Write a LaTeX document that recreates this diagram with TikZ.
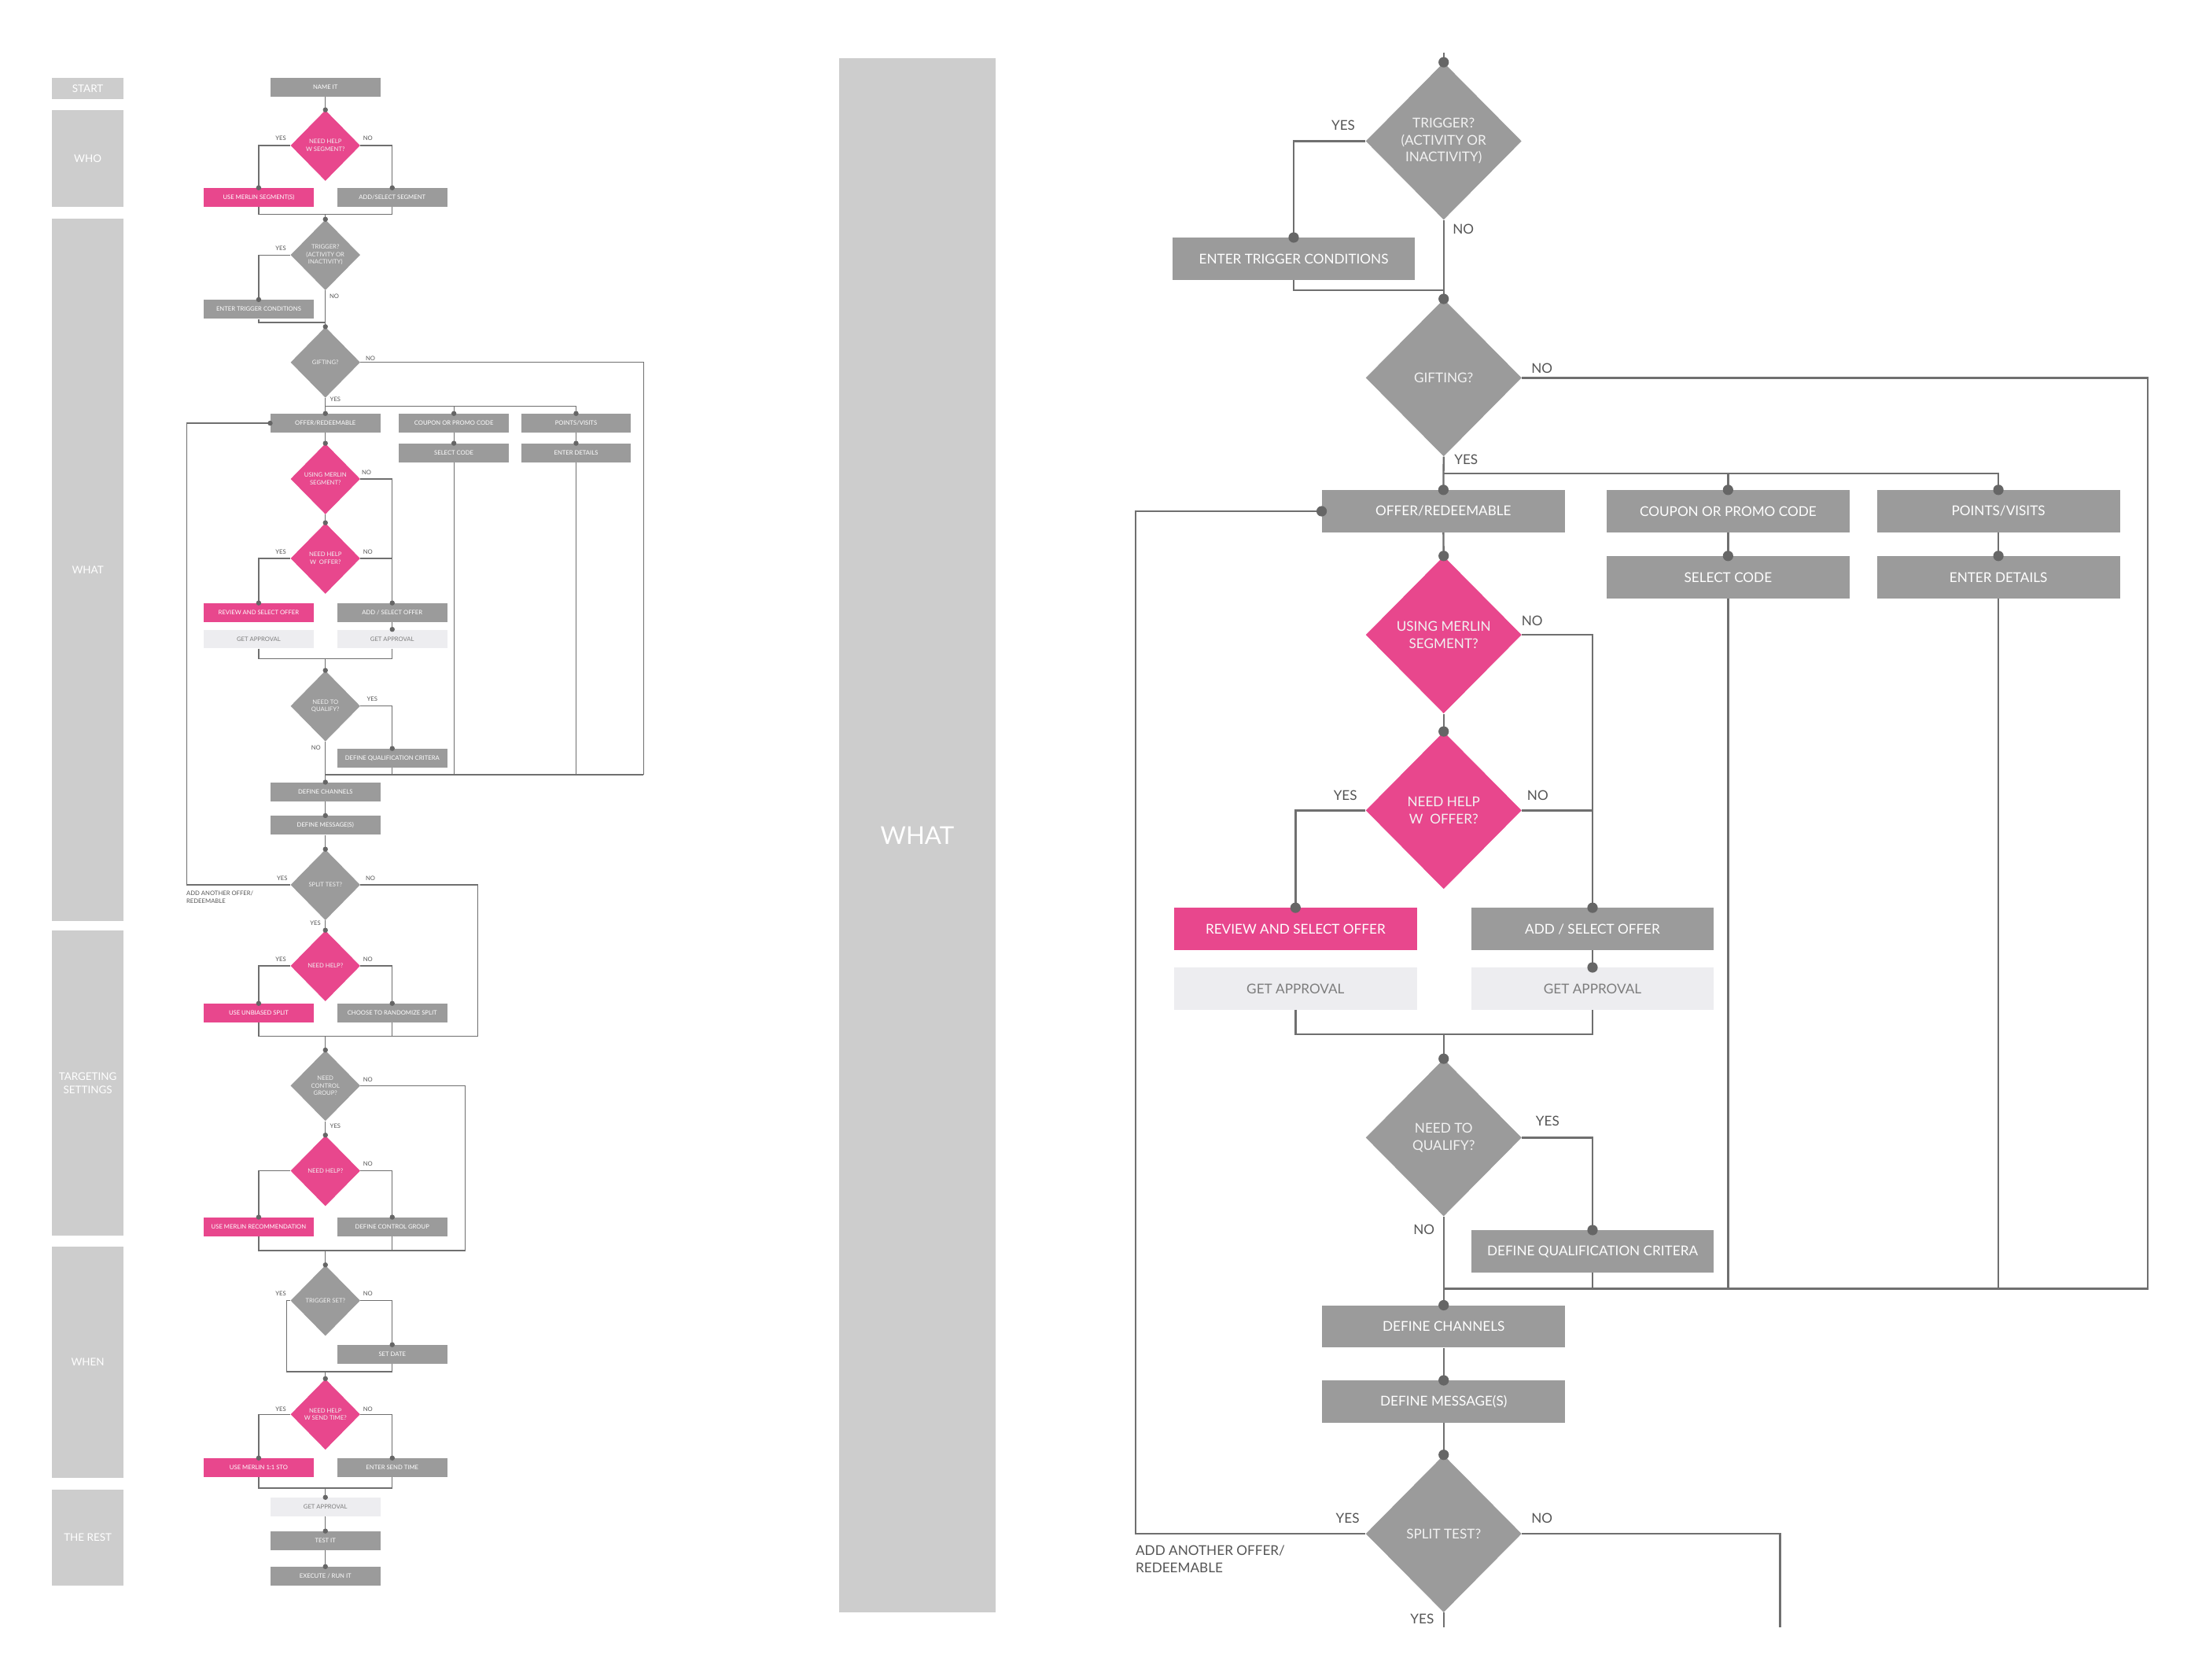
\documentclass[tikz,border=0pt]{standalone}
\usepackage{fontspec}
\setmainfont{Lato}
\usetikzlibrary{shapes.geometric}
\definecolor{boxg}{HTML}{9B9B9B}
\definecolor{pinkc}{HTML}{E8478D}
\definecolor{lightb}{HTML}{EDEDF0}
\definecolor{colbg}{HTML}{CDCDCD}
\definecolor{linec}{HTML}{6F6F6F}
\definecolor{dotc}{HTML}{666666}
\definecolor{labc}{HTML}{555555}
\definecolor{lighttxt}{HTML}{7D7D7D}
\definecolor{dtxt}{HTML}{F2F2F2}
\newcommand\fsR{\fontsize{9.6}{12}\selectfont}
\newcommand\fsL{\fontsize{4.3}{5.4}\selectfont}
\newcommand\fsC{\fontsize{7.5}{9.8}\selectfont}
\newcommand\fsW{\fontsize{17.5}{20}\selectfont}
\newcommand\diaL[4]{\node[ldia,fill=#2] (#1) at (#3) {}; \node[ldt] (#1t) at (#1) {#4};}
\newcommand\diaR[4]{\node[rdia,fill=#2] (#1) at (#3) {}; \node[rdt] (#1t) at (#1) {#4};}
\newcommand\mydotL[1]{\fill[dotc] (#1) circle (1.8pt);}
\newcommand\mydotR[1]{\fill[dotc] (#1) circle (3.7pt);}
\begin{document}
\begin{tikzpicture}[x=1pt,y=-1pt,
  rbox/.style={rectangle,inner sep=0,minimum width=173pt,minimum height=30pt,font=\fsR,text=white},
  lbox/.style={rectangle,inner sep=0,minimum width=78.3pt,minimum height=13.4pt,font=\fsL,text=white},
  gry/.style={fill=boxg}, pnk/.style={fill=pinkc}, lgt/.style={fill=lightb,text=lighttxt},
  rdia/.style={diamond,inner sep=0,minimum width=111pt,minimum height=112pt},
  ldia/.style={diamond,inner sep=0,minimum width=49.6pt,minimum height=50.4pt},
  rdt/.style={font=\fsR,align=center,text=dtxt,inner sep=0},
  ldt/.style={font=\fsL,align=center,text=dtxt,inner sep=0},
  rlab/.style={font=\fsR,text=labc,inner sep=0},
  llab/.style={font=\fsL,text=labc,inner sep=0},
  rln/.style={draw=linec,line width=1.3pt},
  lln/.style={draw=linec,line width=0.65pt},
  colbox/.style={fill=colbg,inner sep=0,text=white,align=center},
]
\useasboundingbox (0,0) rectangle (1568,1196);
\fill[white] (0,0) rectangle (1568,1196);

% ---------- column labels ----------
\node[colbox,minimum width=51pt,minimum height=15.2pt,font=\fsC] (cstart) at (62.5,63) {START};
\node[colbox,minimum width=51pt,minimum height=69pt,font=\fsC] (cwho) at (62.5,112.9) {WHO};
\node[colbox,minimum width=51pt,minimum height=500.3pt,font=\fsC] (cwhat) at (62.5,405.6) {WHAT};
\node[colbox,minimum width=51pt,minimum height=217.4pt,font=\fsC] (ctarget) at (62.5,771.3) {TARGETING\\SETTINGS};
\node[colbox,minimum width=51pt,minimum height=164.7pt,font=\fsC] (cwhen) at (62.5,970) {WHEN};
\node[colbox,minimum width=51pt,minimum height=68.1pt,font=\fsC] (crest) at (62.5,1094.7) {THE REST};
\node[colbox,minimum width=111.5pt,minimum height=1106.5pt,font=\fsW] (cbigwhat) at (653.2,594.7) {WHAT};

% ---------- left (small) flowchart ----------
\node[lbox,gry] (lname) at (231.7,62.2) {NAME IT};
\diaL{ld1}{pinkc}{231.7,103.6}{NEED HELP\\W SEGMENT?}
\node[lbox,pnk] (lb1a) at (184.2,140.6) {USE MERLIN SEGMENT(S)};
\node[lbox,gry] (lb1b) at (279.3,140.6) {ADD/SELECT SEGMENT};
\diaL{ld2}{boxg}{231.7,181.5}{TRIGGER?\\(ACTIVITY OR\\INACTIVITY)}
\node[lbox,gry] (lb2) at (184.2,220.2) {ENTER TRIGGER CONDITIONS};
\diaL{ld3}{boxg}{231.7,258}{GIFTING?}
\node[lbox,gry] (lb3a) at (231.7,301.3) {OFFER/REDEEMABLE};
\node[lbox,gry] (lb3b) at (323.2,301.3) {COUPON OR PROMO CODE};
\node[lbox,gry] (lb3c) at (410.2,301.3) {POINTS/VISITS};
\node[lbox,gry] (lb3d) at (323.2,322.5) {SELECT CODE};
\node[lbox,gry] (lb3e) at (410.2,322.5) {ENTER DETAILS};
\diaL{ld4}{pinkc}{231.7,341}{USING MERLIN\\SEGMENT?}
\diaL{ld5}{pinkc}{231.7,397.6}{NEED HELP\\W\ \ OFFER?}
\node[lbox,pnk] (lb5a) at (184.2,436.2) {REVIEW AND SELECT OFFER};
\node[lbox,gry] (lb5b) at (279.3,436.2) {ADD / SELECT OFFER};
\node[lbox,lgt] (lb5c) at (184.2,455) {GET APPROVAL};
\node[lbox,lgt] (lb5d) at (279.3,455) {GET APPROVAL};
\diaL{ld6}{boxg}{231.7,502.7}{NEED TO\\QUALIFY?}
\node[lbox,gry] (lb6) at (279.3,539.8) {DEFINE QUALIFICATION CRITERA};
\node[lbox,gry] (lb7) at (231.7,563.8) {DEFINE CHANNELS};
\node[lbox,gry] (lb8) at (231.7,587.6) {DEFINE MESSAGE(S)};
\diaL{ld9}{boxg}{231.7,630}{SPLIT TEST?}
\diaL{ld10}{pinkc}{231.7,687.7}{NEED HELP?}
\node[lbox,pnk] (lb10a) at (184.2,721.3) {USE UNBIASED SPLIT};
\node[lbox,gry] (lb10b) at (279.3,721.3) {CHOOSE TO RANDOMIZE SPLIT};
\diaL{ld11}{boxg}{231.7,773}{NEED\\CONTROL\\GROUP?}
\diaL{ld12}{pinkc}{231.7,833.6}{NEED HELP?}
\node[lbox,pnk] (lb12a) at (184.2,873.5) {USE MERLIN RECOMMENDATION};
\node[lbox,gry] (lb12b) at (279.3,873.5) {DEFINE CONTROL GROUP};
\diaL{ld13}{boxg}{231.7,926}{TRIGGER SET?}
\node[lbox,gry] (lb13) at (279.3,964.3) {SET DATE};
\diaL{ld14}{pinkc}{231.7,1007}{NEED HELP\\W SEND TIME?}
\node[lbox,pnk] (lb14a) at (184.2,1045) {USE MERLIN 1:1 STO};
\node[lbox,gry] (lb14b) at (279.3,1045) {ENTER SEND TIME};
\node[lbox,lgt] (lb15) at (231.7,1073) {GET APPROVAL};
\node[lbox,gry] (lb16) at (231.7,1097) {TEST IT};
\node[lbox,gry] (lb17) at (231.7,1122.3) {EXECUTE / RUN IT};

% left labels
\node[llab] (ll1y) at (200,98.6) {YES};
\node[llab] (ll1n) at (262,98.6) {NO};
\node[llab] (ll2y) at (200,177) {YES};
\node[llab] (ll2n) at (238,210.7) {NO};
\node[llab] (ll3n) at (263.8,255.4) {NO};
\node[llab] (ll3y) at (238.8,284.6) {YES};
\node[llab] (ll4n) at (261,336.6) {NO};
\node[llab] (ll5y) at (200,393) {YES};
\node[llab] (ll5n) at (262,393) {NO};
\node[llab] (ll6y) at (265,497.7) {YES};
\node[llab] (ll6n) at (225,532.4) {NO};
\node[llab] (ll9y) at (200.9,625.3) {YES};
\node[llab] (ll9n) at (263.8,625.3) {NO};
\node[llab,anchor=west,align=left] (ll9a) at (132.6,638.7) {ADD ANOTHER OFFER/\\REDEEMABLE};
\node[llab] (ll9b) at (224.6,657.5) {YES};
\node[llab] (ll10y) at (200,683.2) {YES};
\node[llab] (ll10n) at (262,683.2) {NO};
\node[llab] (ll11n) at (262,768.7) {NO};
\node[llab] (ll11y) at (238.8,802) {YES};
\node[llab] (ll12n) at (262,828.8) {NO};
\node[llab] (ll13y) at (200,921) {YES};
\node[llab] (ll13n) at (262,921) {NO};
\node[llab] (ll14y) at (200,1003.4) {YES};
\node[llab] (ll14n) at (262,1003.4) {NO};

% left connectors
\draw[lln] (lname.south) -- (ld1.north);
\draw[lln] (ld1.west) -| (lb1a.north);
\draw[lln] (ld1.east) -| (lb1b.north);
\coordinate (lm1) at (231.7,152.5);
\draw[lln] (lb1a.south) |- (lm1) -| (lb1b.south);
\draw[lln] (lm1) -- (ld2.north);
\draw[lln] (ld2.west) -| (lb2.north);
\coordinate (lm2) at (231.7,229.6);
\draw[lln] (lb2.south) |- (lm2);
\draw[lln] (ld2.south) -- (ld3.north);
\coordinate (lgE) at (458.3,551.6);
\draw[lln] (ld3.east) -| (lgE);
\coordinate (lm3) at (231.7,289.4);
\draw[lln] (ld3.south) -- (lb3a.north);
\draw[lln] (lm3) -| (lb3b.north);
\draw[lln] (lm3) -| (lb3c.north);
\draw[lln] (lb3b.south) -- (lb3d.north);
\draw[lln] (lb3c.south) -- (lb3e.north);
\coordinate (lm6) at (231.7,551.6);
\draw[lln] (lb3d.south) -- (lb3d.south |- lm6);
\draw[lln] (lb3e.south) -- (lb3e.south |- lm6);
\draw[lln] (lb3a.south) -- (ld4.north);
\draw[lln] (ld4.south) -- (ld5.north);
\draw[lln] (ld4.east) -| (lb5b.north);
\draw[lln] (ld5.west) -| (lb5a.north);
\draw[lln] (ld5.east) -- (ld5.east -| lb5b.north);
\draw[lln] (lb5b.south) -- (lb5d.north);
\coordinate (lm5) at (231.7,469);
\draw[lln] (lb5c.south) |- (lm5) -| (lb5d.south);
\draw[lln] (lm5) -- (ld6.north);
\draw[lln] (ld6.east) -| (lb6.north);
\draw[lln] (ld6.south) -- (lb7.north);
\draw[lln] (lm6) -- (lgE);
\draw[lln] (lb6.south) -- (lb6.south |- lm6);
\draw[lln] (lb7.south) -- (lb8.north);
\draw[lln] (lb8.south) -- (ld9.north);
\coordinate (lL) at (132.8,630);
\draw[lln] (ld9.west) -- (ld9.west -| lL) |- (lb3a.west);
\coordinate (lR) at (340.3,738);
\coordinate (lm10) at (231.7,738);
\draw[lln] (ld9.east) -| (lR) -- (lm10);
\draw[lln] (ld9.south) -- (ld10.north);
\draw[lln] (ld10.west) -| (lb10a.north);
\draw[lln] (ld10.east) -| (lb10b.north);
\draw[lln] (lb10a.south) |- (lm10);
\draw[lln] (lb10b.south) |- (lm10);
\draw[lln] (lm10) -- (ld11.north);
\coordinate (lR2) at (331.1,890.4);
\coordinate (lm12) at (231.7,890.4);
\draw[lln] (ld11.east) -| (lR2) -- (lm12);
\draw[lln] (ld11.south) -- (ld12.north);
\draw[lln] (ld12.west) -| (lb12a.north);
\draw[lln] (ld12.east) -| (lb12b.north);
\draw[lln] (lb12a.south) |- (lm12);
\draw[lln] (lb12b.south) |- (lm12);
\draw[lln] (lm12) -- (ld13.north);
\coordinate (lm13L) at (204,976.6);
\coordinate (lm13) at (231.7,976.6);
\draw[lln] (ld13.west) -| (lm13L) -- (lm13);
\draw[lln] (ld13.east) -| (lb13.north);
\draw[lln] (lb13.south) |- (lm13);
\draw[lln] (lm13) -- (ld14.north);
\draw[lln] (ld14.west) -| (lb14a.north);
\draw[lln] (ld14.east) -| (lb14b.north);
\coordinate (lm14) at (231.7,1059.5);
\draw[lln] (lb14a.south) |- (lm14) -| (lb14b.south);
\draw[lln] (lm14) -- (lb15.north);
\draw[lln] (lb15.south) -- (lb16.north);
\draw[lln] (lb16.south) -- (lb17.north);

% left dots
\foreach \p in {ld1.north,lb1a.north,lb1b.north,ld2.north,lb2.north,ld3.north,
  lb3a.north,lb3b.north,lb3c.north,lb3d.north,lb3e.north,lb3a.west,ld4.north,ld5.north,
  lb5a.north,lb5b.north,lb5d.north,ld6.north,lb6.north,lb7.north,lb8.north,ld9.north,
  ld10.north,lb10a.north,lb10b.north,ld11.north,ld12.north,lb12a.north,lb12b.north,
  ld13.north,lb13.north,ld14.north,lb14a.north,lb14b.north,lb15.north,lb16.north,lb17.north}
  {\mydotL{\p}}

% ---------- right (large) flowchart ----------
\coordinate (rtop) at (1028,37.5);
\diaR{rd1}{boxg}{1028,100.5}{TRIGGER?\\(ACTIVITY OR\\INACTIVITY)}
\node[rbox,gry] (rb1) at (921.2,184.3) {ENTER TRIGGER CONDITIONS};
\diaR{rd2}{boxg}{1028,269}{GIFTING?}
\node[rbox,gry] (rb3a) at (1027.8,364) {OFFER/REDEEMABLE};
\node[rbox,gry] (rb3b) at (1230.5,364) {COUPON OR PROMO CODE};
\node[rbox,gry] (rb3c) at (1423,364) {POINTS/VISITS};
\node[rbox,gry] (rb3d) at (1230.5,411) {SELECT CODE};
\node[rbox,gry] (rb3e) at (1423,411) {ENTER DETAILS};
\diaR{rd4}{pinkc}{1028,452}{USING MERLIN\\SEGMENT?}
\diaR{rd5}{pinkc}{1028,577}{NEED HELP\\W\ \ OFFER?}
\node[rbox,pnk] (rb5a) at (922.5,661.5) {REVIEW AND SELECT OFFER};
\node[rbox,gry] (rb5b) at (1134,661.5) {ADD / SELECT OFFER};
\node[rbox,lgt] (rb5c) at (922.5,704) {GET APPROVAL};
\node[rbox,lgt] (rb5d) at (1134,704) {GET APPROVAL};
\diaR{rd6}{boxg}{1028,810}{NEED TO\\QUALIFY?}
\node[rbox,gry] (rb6) at (1134,891) {DEFINE QUALIFICATION CRITERA};
\node[rbox,gry] (rb7) at (1028,944.5) {DEFINE CHANNELS};
\node[rbox,gry] (rb8) at (1028,998) {DEFINE MESSAGE(S)};
\diaR{rd9}{boxg}{1028,1092}{SPLIT TEST?}

% right labels
\node[rlab] (rl1y) at (956.5,89) {YES};
\node[rlab] (rl1n) at (1042,163) {NO};
\node[rlab] (rl2n) at (1098,262.5) {NO};
\node[rlab] (rl2y) at (1044,327.5) {YES};
\node[rlab] (rl4n) at (1091,442) {NO};
\node[rlab] (rl5y) at (958,566.5) {YES};
\node[rlab] (rl5n) at (1095,566.5) {NO};
\node[rlab] (rl6y) at (1102,798.4) {YES};
\node[rlab] (rl6n) at (1014,875.5) {NO};
\node[rlab] (rl9y) at (959.6,1081) {YES};
\node[rlab] (rl9n) at (1098,1081) {NO};
\node[rlab,anchor=west,align=left] (rl9a) at (808.5,1110) {ADD ANOTHER OFFER/\\REDEEMABLE};
\node[rlab] (rl9b) at (1012.7,1152.4) {YES};

% right connectors
\draw[rln] (rtop) -- (rd1.north);
\draw[rln] (rd1.west) -| (rb1.north);
\draw[rln] (rd1.south) -- (rd2.north);
\coordinate (rm1) at (1028,206.5);
\draw[rln] (rb1.south) |- (rm1);
\coordinate (rE) at (1529.5,917.5);
\coordinate (rm6) at (1028,917.5);
\draw[rln] (rd2.east) -| (rE) -- (rm6);
\coordinate (rm3) at (1028,337);
\draw[rln] (rd2.south) -- (rb3a.north);
\draw[rln] (rm3) -| (rb3b.north);
\draw[rln] (rm3) -| (rb3c.north);
\draw[rln] (rb3b.south) -- (rb3d.north);
\draw[rln] (rb3c.south) -- (rb3e.north);
\draw[rln] (rb3d.south) -- (rb3d.south |- rm6);
\draw[rln] (rb3e.south) -- (rb3e.south |- rm6);
\draw[rln] (rb3a.south) -- (rd4.north);
\draw[rln] (rd4.south) -- (rd5.north);
\draw[rln] (rd4.east) -| (rb5b.north);
\draw[rln] (rd5.west) -| (rb5a.north);
\draw[rln] (rd5.east) -- (rd5.east -| rb5b.north);
\draw[rln] (rb5b.south) -- (rb5d.north);
\coordinate (rm5) at (1028,736.5);
\draw[rln] (rb5c.south) |- (rm5) -| (rb5d.south);
\draw[rln] (rm5) -- (rd6.north);
\draw[rln] (rd6.east) -| (rb6.north);
\draw[rln] (rd6.south) -- (rb7.north);
\draw[rln] (rb6.south) -- (rb6.south |- rm6);
\draw[rln] (rb7.south) -- (rb8.north);
\draw[rln] (rb8.south) -- (rd9.north);
\coordinate (rL) at (808.7,1092);
\draw[rln] (rd9.west) -- (rd9.west -| rL) |- (rb3a.west);
\coordinate (rR) at (1267.6,1158.4);
\draw[rln] (rd9.east) -| (rR);
\coordinate (rbot) at (1028,1158.4);
\draw[rln] (rd9.south) -- (rbot);

% right dots
\foreach \p in {rd1.north,rb1.north,rd2.north,rb3a.north,rb3b.north,rb3c.north,
  rb3d.north,rb3e.north,rb3a.west,rd4.north,rd5.north,rb5a.north,rb5b.north,rb5d.north,
  rd6.north,rb6.north,rb7.north,rb8.north,rd9.north}
  {\mydotR{\p}}
\end{tikzpicture}
\end{document}
